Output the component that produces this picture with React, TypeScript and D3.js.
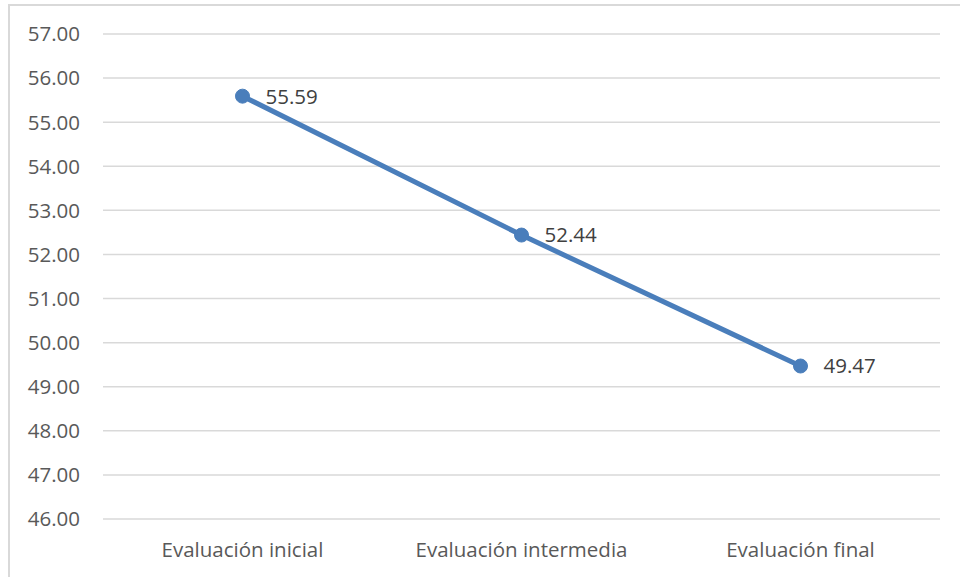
import { useEffect, useRef } from "react";
import * as d3 from "d3";

const categories = ["Evaluación inicial", "Evaluación intermedia", "Evaluación final"];
const values = [55.59, 52.44, 49.47];
const yTicks = [46, 47, 48, 49, 50, 51, 52, 53, 54, 55, 56, 57];

export default function App() {
  const svgRef = useRef<SVGSVGElement | null>(null);

  useEffect(() => {
    if (!svgRef.current) return;
    const svg = d3.select(svgRef.current);
    svg.selectAll("*").remove();

    const width = 960;
    const height = 577;
    const left = 103;
    const right = 940;
    const top = 34;
    const bottom = 519;
    const font = "'Open Sans', 'Noto Sans', sans-serif";
    const fontSize = 20.5;

    // chart frame
    svg
      .append("rect")
      .attr("x", 9)
      .attr("y", 5)
      .attr("width", width + 20)
      .attr("height", height + 20)
      .attr("fill", "white")
      .attr("stroke", "#d9d9d9")
      .attr("stroke-width", 2);

    const x = d3.scaleBand().domain(categories).range([left, right]);
    const y = d3.scaleLinear().domain([46, 57]).range([bottom, top]);

    svg
      .append("g")
      .selectAll("line")
      .data(yTicks)
      .enter()
      .append("line")
      .attr("x1", left)
      .attr("x2", right)
      .attr("y1", (d) => y(d))
      .attr("y2", (d) => y(d))
      .attr("stroke", "#d9d9d9")
      .attr("stroke-width", 1.5);

    svg
      .append("g")
      .selectAll("text")
      .data(yTicks)
      .enter()
      .append("text")
      .attr("x", 80)
      .attr("y", (d) => y(d))
      .attr("dy", "0.36em")
      .attr("text-anchor", "end")
      .attr("font-family", font)
      .attr("font-size", fontSize)
      .attr("fill", "#595959")
      .text((d) => d3.format(".2f")(d));

    svg
      .append("g")
      .selectAll("text")
      .data(categories)
      .enter()
      .append("text")
      .attr("x", (d) => (x(d) ?? 0) + x.bandwidth() / 2)
      .attr("y", 557)
      .attr("text-anchor", "middle")
      .attr("font-family", font)
      .attr("font-size", fontSize)
      .attr("fill", "#595959")
      .text((d) => d);

    const pts = categories.map((c, i) => ({
      cx: (x(c) ?? 0) + x.bandwidth() / 2,
      cy: y(values[i]),
      v: values[i],
    }));

    const line = d3
      .line<{ cx: number; cy: number }>()
      .x((d) => d.cx)
      .y((d) => d.cy);

    svg
      .append("path")
      .attr("d", line(pts))
      .attr("fill", "none")
      .attr("stroke", "#4a7ebb")
      .attr("stroke-width", 5)
      .attr("stroke-linecap", "round");

    svg
      .append("g")
      .selectAll("circle")
      .data(pts)
      .enter()
      .append("circle")
      .attr("cx", (d) => d.cx)
      .attr("cy", (d) => d.cy)
      .attr("r", 7)
      .attr("fill", "#4a7ebb")
      .attr("stroke", "#4a7ebb")
      .attr("stroke-width", 1);

    svg
      .append("g")
      .selectAll("text")
      .data(pts)
      .enter()
      .append("text")
      .attr("x", (d) => d.cx + 23)
      .attr("y", (d) => d.cy)
      .attr("dy", "0.36em")
      .attr("font-family", font)
      .attr("font-size", fontSize)
      .attr("fill", "#404040")
      .text((d) => d3.format(".2f")(d.v));
  }, []);

  return (
    <svg
      ref={svgRef}
      width={960}
      height={577}
      style={{ position: "absolute", left: 0, top: 0, display: "block", background: "white" }}
    />
  );
}
